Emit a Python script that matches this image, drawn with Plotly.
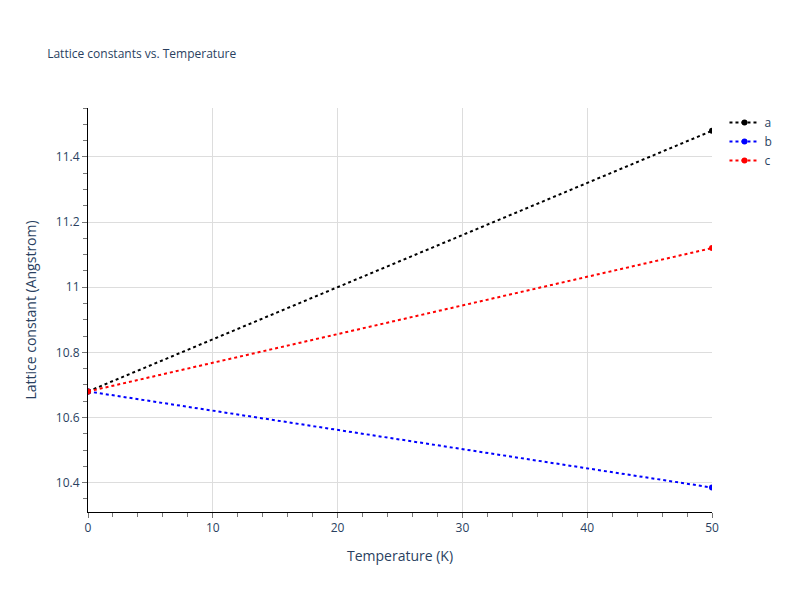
import plotly.graph_objects as go

temperature = [0, 50]
a_vals = [10.68, 11.48]
b_vals = [10.68, 10.385]
c_vals = [10.68, 11.12]

fig = go.Figure()
for name, vals, col in [("a", a_vals, "black"), ("b", b_vals, "blue"), ("c", c_vals, "red")]:
    fig.add_trace(go.Scatter(x=temperature, y=vals, mode="lines+markers", name=name,
                             line=dict(color=col, dash="dot", width=2),
                             marker=dict(color=col, size=6)))

axis_style = dict(showline=True, linecolor="black", linewidth=1, ticks="outside",
                  tickcolor="#777777", ticklen=5, gridcolor="#dddddd", zeroline=False,
                  minor=dict(ticks="outside", tickcolor="#777777", ticklen=4))

fig.update_layout(
    title=dict(text="Lattice constants vs. Temperature", font=dict(size=12)),
    template="plotly_white",
    xaxis=dict(title="Temperature (K)", range=[0, 50], dtick=10, **axis_style),
    yaxis=dict(title="Lattice constant (Angstrom)", range=[10.31, 11.55], dtick=0.2, **axis_style),
)
fig.update_xaxes(minor_dtick=2)
fig.update_yaxes(minor_dtick=0.05)
fig.write_html("out.html")
